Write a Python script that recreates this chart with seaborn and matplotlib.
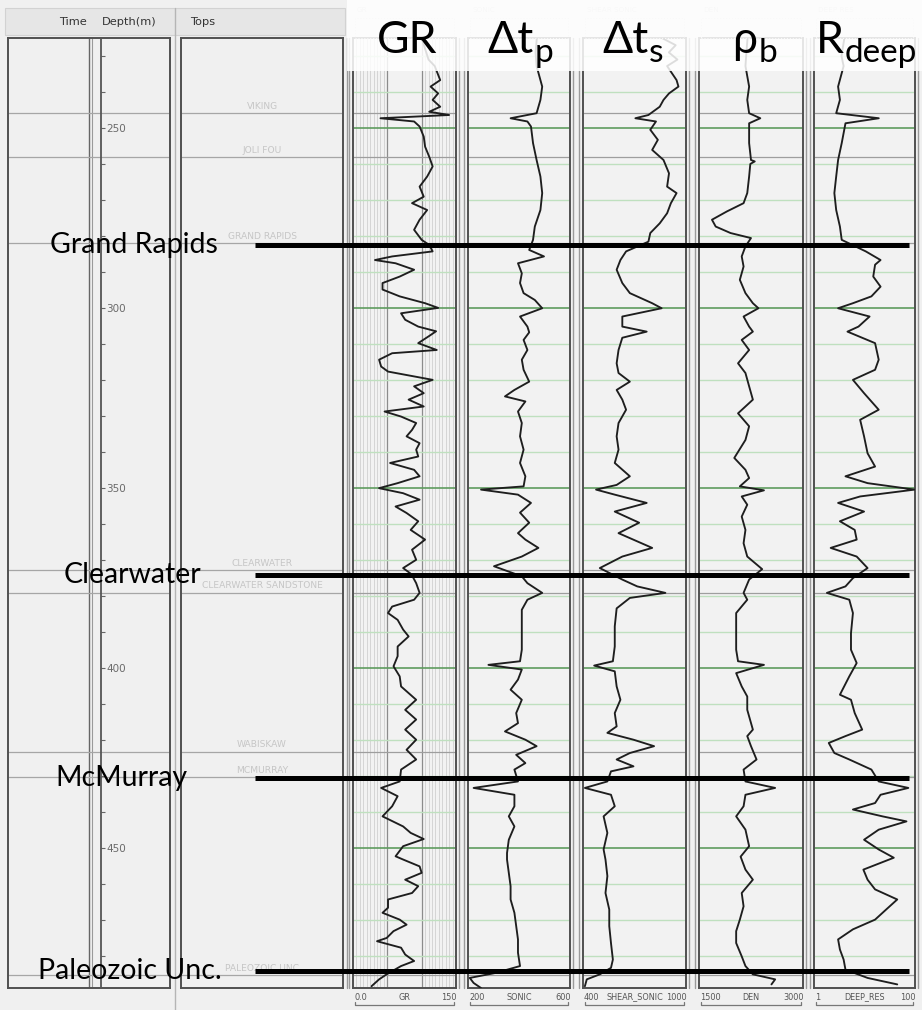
import numpy as np
import pandas as pd
import matplotlib
matplotlib.use("Agg")
import matplotlib.pyplot as plt
import seaborn as sns
from matplotlib.patches import Rectangle
from matplotlib.lines import Line2D
from matplotlib.ticker import MultipleLocator, FixedLocator, NullLocator

# ---------------- data ----------------
depth_top, depth_bottom = 225, 489

top_names = ["VIKING", "JOLI FOU", "GRAND RAPIDS", "CLEARWATER", "CLEARWATER SANDSTONE",
             "WABISKAW", "MCMURRAY", "PALEOZOIC UNC"]
top_depths = [245.8, 258.1, 282.0, 372.8, 379.1, 423.3, 430.5, 485.3]

horizon_names = ["Grand Rapids", "Clearwater", "McMurray", "Paleozoic Unc."]
horizon_depths = [282.5, 374.2, 430.6, 484.4]

gr_depth = [225, 228, 231, 232.8, 236.7, 238.5, 240.4, 242.2, 244.1, 245.5, 246.4, 247.3, 248.2, 249.6,
            252.4, 255.2, 258.0, 260.7, 263.5, 266.3, 269.1, 270.9, 272.8, 275.5, 278.3, 281.1, 282.5,
            284.3, 285.7, 286.7, 287.6, 289.4, 291.3, 293.1, 294.9, 296.8, 298.7, 300.0, 301.5, 303.3,
            305.2, 306.5, 307.8, 309.8, 311.7, 312.6, 314.4, 316.3, 317.7, 320.0, 321.8, 323.7, 325.5,
            327.4, 328.8, 330.2, 332.0, 333.9, 335.7, 337.6, 339.4, 341.3, 343.1, 345.0, 346.8, 348.7,
            350.1, 351.5, 353.3, 355.2, 357.0, 359.3, 361.7, 364.4, 367.2, 370.0, 372.3, 374.0, 376.5,
            379.2, 381.1, 383.0, 384.8, 386.7, 389.4, 391.3, 394.1, 396.8, 399.6, 402.4, 405.2, 408.9,
            411.7, 414.4, 417.2, 420.0, 422.8, 425.5, 428.3, 431.6, 433.4, 435.7, 438.5, 441.3, 444.1,
            445.9, 447.6, 449.6, 452.4, 453.3, 455.2, 457.0, 458.9, 460.7, 462.6, 464.4, 466.7, 468.1,
            470.0, 471.4, 473.2, 475.1, 476.0, 477.8, 479.7, 481.5, 482.9, 485.2, 486.6, 488.5]
gr_value = [100, 105, 110, 119, 127, 113, 124, 116, 127, 111, 140, 40, 89, 97,
            103, 105, 111, 116, 108, 97, 103, 86, 108, 97, 89, 100, 111,
            116, 57, 32, 62, 89, 68, 43, 43, 68, 105, 124, 70, 76,
            95, 121, 111, 95, 122, 57, 38, 41, 51, 116, 89, 103, 81,
            103, 46, 70, 92, 86, 78, 97, 92, 95, 54, 89, 97, 65,
            38, 73, 97, 62, 78, 95, 84, 105, 86, 92, 73, 85, 92,
            97, 89, 57, 51, 65, 73, 81, 65, 65, 59, 68, 70, 92,
            76, 92, 76, 92, 78, 92, 70, 68, 41, 65, 57, 43, 73,
            84, 103, 73, 62, 73, 97, 100, 76, 95, 86, 51, 51, 43,
            68, 78, 59, 49, 35, 70, 76, 89, 70, 49, 38, 27]

sonic_depth = [225, 229, 232.8, 238.5, 242.2, 245.9, 247.3, 248.2, 249.6, 254.2, 258.9, 263.5, 268.1,
               272.8, 277.4, 281.1, 283.9, 285.7, 287.6, 290.4, 293.1, 295.9, 297.8, 300.1, 302.4,
               305.2, 306.8, 308.9, 311.7, 314.4, 317.2, 320.5, 322.8, 324.6, 326.0, 328.8, 332.0,
               335.7, 339.4, 343.1, 346.8, 349.6, 350.5, 351.9, 354.2, 356.9, 359.7, 362.6, 364.4,
               366.7, 369.1, 371.8, 374.6, 376.5, 379.2, 381.1, 383.9, 386.7, 390.4, 395.0, 398.2,
               399.2, 400.5, 403.3, 406.1, 408.9, 412.6, 415.4, 417.7, 420.0, 421.8, 424.2, 426.5,
               428.3, 431.6, 433.4, 435.3, 438.5, 441.3, 444.1, 447.8, 451.5, 453.3, 457.0, 460.7,
               464.4, 468.1, 471.8, 475.5, 479.2, 482.9, 484.8, 486.2, 487.6, 489.0]
sonic_value = [470, 465, 469, 491, 484, 469, 367, 433, 447, 455, 469, 484, 491,
               484, 462, 455, 440, 498, 396, 411, 404, 418, 462, 491, 404,
               433, 440, 418, 433, 411, 418, 440, 382, 345, 425, 396, 411,
               404, 418, 404, 425, 418, 251, 396, 447, 404, 440, 396, 425,
               476, 411, 302, 411, 433, 491, 433, 411, 411, 411, 411, 404,
               280, 411, 396, 367, 411, 389, 396, 345, 425, 469, 389, 425,
               382, 396, 222, 382, 382, 360, 382, 360, 353, 353, 360, 367,
               367, 382, 389, 396, 396, 404, 309, 207, 222, 251]

shear_depth = [225, 227, 229, 231, 232.8, 236.7, 238.5, 240.4, 242.2, 244.1, 246.4, 247.3, 248.2,
               250.5, 253.3, 256.1, 258.9, 262.6, 266.3, 268.1, 270.9, 273.7, 276.5, 279.2, 281.6,
               284.3, 286.7, 289.4, 293.1, 295.9, 298.7, 300.1, 302.4, 305.2, 306.6, 308.3, 311.7,
               315.4, 318.1, 320.5, 322.8, 325.5, 328.3, 332.0, 335.7, 339.4, 343.1, 346.8, 349.2,
               350.5, 351.9, 354.2, 356.6, 359.7, 362.6, 366.7, 369.1, 372.3, 375.5, 377.4, 379.2,
               380.6, 383.5, 388.5, 394.1, 398.2, 399.4, 401.0, 405.2, 408.9, 412.6, 416.3, 418.1,
               420.0, 421.8, 423.7, 425.5, 427.4, 428.8, 431.6, 433.4, 435.3, 438.5, 441.3, 445.9,
               450.5, 453.3, 457.9, 462.6, 467.2, 471.8, 476.5, 481.1, 483.4, 485.2, 486.6, 488.5]
shear_value = [860, 940, 900, 950, 890, 945, 956, 901, 869, 847, 781, 705, 825,
               792, 836, 803, 869, 901, 890, 945, 912, 890, 847, 792, 781,
               651, 618, 596, 629, 673, 803, 858, 629, 629, 771, 629, 607,
               596, 607, 673, 596, 629, 651, 607, 596, 607, 585, 673, 596,
               476, 585, 771, 585, 727, 607, 803, 629, 498, 629, 716, 880,
               673, 596, 585, 585, 574, 465, 585, 596, 618, 585, 596, 542,
               694, 814, 673, 596, 694, 563, 542, 411, 563, 585, 520, 542,
               520, 531, 542, 531, 553, 553, 563, 574, 563, 498, 422, 411]

den_depth = [225, 230, 232.8, 238.5, 242.2, 245.9, 247.3, 248.7, 254.2, 258.9, 259.3, 260.0, 263.5,
             268.1, 270.9, 273.2, 275.5, 277.4, 279.2, 280.6, 282.9, 285.7, 288.5, 292.2, 295.9,
             298.7, 300.1, 302.4, 305.2, 306.6, 308.9, 311.7, 315.4, 318.1, 321.8, 325.5, 329.3,
             332.9, 336.7, 341.7, 345.0, 347.3, 349.6, 350.7, 352.4, 354.7, 358.0, 361.7, 365.4,
             369.1, 372.6, 375.5, 379.2, 381.1, 384.8, 390.4, 395.0, 398.2, 399.2, 401.5, 405.2,
             408.0, 411.7, 417.2, 419.0, 421.8, 425.5, 428.3, 431.6, 433.4, 435.3, 438.5, 441.3,
             445.0, 449.6, 452.5, 456.1, 458.9, 462.6, 466.3, 470.0, 473.2, 476.5, 480.2, 482.9,
             485.2, 486.6, 488.0]
den_value = [2200, 2180, 2170, 2223, 2196, 2223, 2384, 2223, 2223, 2250, 2304, 2240, 2223,
             2196, 2143, 1902, 1687, 1741, 1955, 2250, 2170, 2116, 2143, 2089, 2170,
             2277, 2357, 2143, 2223, 2277, 2116, 2223, 2063, 2170, 2223, 2277, 2063,
             2223, 2170, 2009, 2170, 2223, 2089, 2437, 2116, 2196, 2116, 2170, 2143,
             2196, 2411, 2223, 2143, 2196, 2036, 2036, 2036, 2063, 2437, 2036, 2116,
             2196, 2196, 2277, 2196, 2250, 2330, 2143, 2170, 2598, 2170, 2143, 2036,
             2170, 2223, 2100, 2170, 2277, 2116, 2143, 2089, 2036, 2036, 2116, 2170,
             2277, 2598, 2545]

res_depth = [225, 230, 232.8, 238.5, 242.2, 245.9, 247.3, 248.7, 254.2, 258.9, 263.5, 268.1, 272.8,
             277.4, 281.1, 284.3, 286.7, 288.0, 291.3, 294.1, 296.8, 298.7, 300.1, 302.4, 305.2,
             306.6, 309.8, 314.4, 317.2, 320.0, 323.7, 328.3, 331.1, 335.7, 340.4, 344.1, 346.8,
             348.7, 350.5, 352.4, 354.2, 356.6, 359.3, 361.7, 364.4, 366.7, 369.1, 372.3, 375.1,
             377.4, 379.2, 381.1, 384.8, 390.4, 395.0, 398.7, 402.4, 407.5, 408.9, 412.6, 417.2,
             419.0, 420.9, 423.7, 425.5, 428.3, 431.6, 433.4, 435.3, 437.6, 439.4, 441.3, 442.7,
             445.0, 447.8, 450.5, 452.8, 456.1, 458.9, 461.6, 464.4, 467.2, 470.0, 472.7, 475.5,
             478.3, 481.1, 483.9, 486.2, 488.0]
res_value = [4.0, 3.5, 3.86, 3.0, 3.26, 2.75, 19.2, 4.2, 3.54, 3.0, 2.75, 2.53, 2.75,
             3.26, 3.54, 10.6, 20.8, 16.2, 14.9, 20.8, 13.7, 5.9, 3.0, 12.6, 7.6,
             4.6, 16.2, 19.1, 16.2, 5.9, 9.8, 19.1, 8.2, 9.8, 11.5, 16.2, 4.2,
             11.5, 98, 8.2, 3.0, 9.8, 3.26, 6.4, 7.0, 2.14, 7.0, 11.5, 5.9,
             4.2, 1.8, 5.0, 5.9, 5.4, 5.4, 7.0, 5.0, 3.26, 5.4, 6.4, 9.0,
             4.2, 1.96, 2.53, 5.0, 13.7, 19.1, 73.8, 20.8, 16.2, 5.9, 22.7, 67.8,
             19.1, 9.8, 19.1, 38, 9.5, 11.5, 16.2, 44.5, 26.8, 16.2, 5.9, 3.0,
             3.26, 3.86, 4.2, 11.5, 44.5]

track_names = ["GR", "SONIC", "SHEAR_SONIC", "DEN", "DEEP_RES"]
track_header = ["GR", "SONIC", "SHEAR SONIC", "DEN", "DEEP RES"]
scale_left = ["0.0", "200", "400", "1500", "1"]
scale_right = ["150", "600", "1000", "3000", "100"]
scale_min = [0, 200, 400, 1500, 1]
scale_max = [150, 600, 1000, 3000, 100]
big_main = ["GR", "Δt", "Δt", "ρ", "R"]
big_sub = ["", "p", "s", "b", "deep"]

curves = [(gr_depth, gr_value), (sonic_depth, sonic_value), (shear_depth, shear_value),
          (den_depth, den_value), (res_depth, res_value)]

# ---------------- layout / style ----------------
W, H, DPI = 922, 1010, 100
TRACK_Y0, TRACK_Y1 = 38, 988
log_x = [(353, 456), (468, 570), (583, 686), (699, 803), (814, 915)]
big_left = [377, 487, 602, 732, 816]
horizon_text_x = [50, 64, 55, 38]
ANN_FONT = ["Lato", "Noto Sans", "DejaVu Sans"]
BG = "#f0f0f0"
EDGE = "#505050"

sns.set_theme(style="white")
plt.rcParams["font.family"] = ["DejaVu Sans"]

fig = plt.figure(figsize=(W / DPI, H / DPI), dpi=DPI, facecolor=BG)


def px_axes(x0, y0, x1, y1, **kw):
    return fig.add_axes([x0 / W, 1 - y1 / H, (x1 - x0) / W, (y1 - y0) / H], **kw)


def fig_line(xs, ys, **kw):
    fig.add_artist(Line2D([x / W for x in xs], [1 - y / H for y in ys], transform=fig.transFigure, **kw))


def style_box(ax):
    ax.set_facecolor(BG)
    for sp in ax.spines.values():
        sp.set_color(EDGE)
        sp.set_linewidth(1.4)
    ax.tick_params(which="both", left=False, bottom=False, right=False, top=False,
                   labelleft=False, labelbottom=False)
    ax.set_ylim(depth_bottom, depth_top)


# header band for depth / tops tracks
fig.add_artist(Rectangle((5 / W, 1 - 35 / H), 340 / W, 27 / H, transform=fig.transFigure,
                         facecolor="#e6e6e6", edgecolor="#d2d2d2", lw=0.8))
fig_line([175, 175], [8, 1010], color="#b5b5b5", lw=1.0)
fig.text(87 / W, 1 - 22 / H, "Time", ha="right", va="center", fontsize=8.2, color="#333333")
fig.text(102 / W, 1 - 22 / H, "Depth(m)", ha="left", va="center", fontsize=8.2, color="#333333")
fig.text(190 / W, 1 - 22 / H, "Tops", ha="left", va="center", fontsize=8.2, color="#333333")

# depth track
ax_d = px_axes(8, TRACK_Y0, 170, TRACK_Y1)
style_box(ax_d)
ax_d.set_xlim(8, 170)
ax_d.axvline(88.5, color="#666666", lw=1.0)
ax_d.axvline(91.5, color="#9a9a9a", lw=0.8)
for d in top_depths:
    ax_d.axhline(d, color="#a6a6a6", lw=0.9)

ax_s = px_axes(8, TRACK_Y0, 101, TRACK_Y1)
ax_s.patch.set_alpha(0)
for k, sp in ax_s.spines.items():
    sp.set_visible(k == "right")
ax_s.spines["right"].set_color("#555555")
ax_s.spines["right"].set_linewidth(1.3)
ax_s.set_ylim(depth_bottom, depth_top)
ax_s.set_xticks([])
ax_s.yaxis.tick_right()
ax_s.yaxis.set_major_locator(MultipleLocator(50))
ax_s.yaxis.set_minor_locator(MultipleLocator(10))
ax_s.tick_params(axis="y", which="both", direction="out", length=3, width=0.8, color="#666666",
                 labelsize=7.5, labelcolor="#6a6a6a", pad=1)

# tops track
ax_t = px_axes(181, TRACK_Y0, 343, TRACK_Y1)
style_box(ax_t)
ax_t.set_xlim(0, 1)
for name, d in zip(top_names, top_depths):
    ax_t.axhline(d, color="#a6a6a6", lw=0.9)
    ax_t.annotate(name, xy=(0.5, d), xycoords=("axes fraction", "data"), xytext=(0, 1.5),
                  textcoords="offset points", ha="center", va="bottom", fontsize=6.6, color="#c6c6c6")
fig_line([347, 347], [TRACK_Y0, TRACK_Y1], color="#9a9a9a", lw=1.0)

# log tracks
for i, ((x0, x1), (dep, val)) in enumerate(zip(log_x, curves)):
    ax = px_axes(x0, TRACK_Y0, x1, TRACK_Y1)
    style_box(ax)
    ax.set_facecolor("#f2f2f2")
    if track_names[i] == "DEEP_RES":
        ax.set_xscale("log")
    ax.set_xlim(scale_min[i], scale_max[i])
    ax.yaxis.set_major_locator(MultipleLocator(50))
    ax.yaxis.set_minor_locator(MultipleLocator(10))
    ax.grid(which="minor", axis="y", color="#bfe0bf", lw=1.0, zorder=0)
    ax.grid(which="major", axis="y", color="#5f9c5f", lw=1.2, zorder=0)
    if track_names[i] == "GR":
        ax.xaxis.set_major_locator(FixedLocator([50, 100]))
        ax.xaxis.set_minor_locator(FixedLocator(list(range(5, 50, 5)) + list(range(105, 150, 5))))
        ax.grid(which="major", axis="x", color="#8c8c8c", lw=0.9, zorder=0)
        ax.grid(which="minor", axis="x", color="#d0d0d0", lw=0.6, zorder=0)
    else:
        ax.xaxis.set_major_locator(NullLocator())
        ax.xaxis.set_minor_locator(NullLocator())
    ax.tick_params(which="both", left=False, bottom=False, labelleft=False, labelbottom=False)
    for d in top_depths:
        ax.axhline(d, color="#9e9e9e", lw=0.9, zorder=1)
    df = pd.DataFrame({"depth": dep, "value": val})
    sns.lineplot(data=df, x="value", y="depth", ax=ax, sort=False, estimator=None, orient="y",
                 color="#1e1e1e", lw=1.35, zorder=3)
    ax.set_xlabel("")
    ax.set_ylabel("")
    ax.set_ylim(depth_bottom, depth_top)
    ax.set_xlim(scale_min[i], scale_max[i])
    fig_line([x0 - 4, x0 - 4], [TRACK_Y0, TRACK_Y1], color="#9a9a9a", lw=1.0)
    fig_line([x1 + 3, x1 + 3], [TRACK_Y0, TRACK_Y1], color="#9a9a9a", lw=1.0)
    fig.text((x0 + 1) / W, 1 - 997 / H, scale_left[i], ha="left", va="center", fontsize=5.9, color="#555555")
    fig.text((x0 + x1) / 2 / W, 1 - 997 / H, track_names[i], ha="center", va="center", fontsize=5.9, color="#555555")
    fig.text((x1 + 1) / W, 1 - 997 / H, scale_right[i], ha="right", va="center", fontsize=5.9, color="#555555")
    fig_line([x0 + 2, x0 + 2, x1 - 2, x1 - 2], [1002, 1005, 1005, 1002], color="#777777", lw=0.9)
    fig.text((x0 + 4) / W, 1 - 10 / H, track_header[i], ha="left", va="center", fontsize=5.2, color="#cfcfcf")
    fig.add_artist(Rectangle(((x0 + 2) / W, 1 - TRACK_Y0 / H), (x1 - x0 - 4) / W, 20 / H,
                             transform=fig.transFigure, fill=False, edgecolor="#d8d8d8", lw=0.8, ls=":"))

# semi-transparent white label box
fig.add_artist(Rectangle((347 / W, 1 - 71 / H), (W - 347) / W, 71 / H, transform=fig.transFigure,
                         facecolor="white", edgecolor="none", alpha=0.85, zorder=50))

# overlay for horizon annotations
ax_o = px_axes(0, TRACK_Y0, W, TRACK_Y1)
ax_o.patch.set_alpha(0)
ax_o.set_axis_off()
ax_o.set_zorder(40)
ax_o.set_xlim(0, W)
ax_o.set_ylim(depth_bottom, depth_top)
ax_o.hlines(horizon_depths, 255, 909, color="black", lw=3.6)
for name, d, xl in zip(horizon_names, horizon_depths, horizon_text_x):
    ax_o.text(xl, d, name, ha="left", va="center", fontsize=20.5, family=ANN_FONT, color="black")

# big curve labels
renderer = fig.canvas.get_renderer()
for m, s, xl in zip(big_main, big_sub, big_left):
    t = fig.text(xl / W, 1 - 53 / H, m, fontsize=32, family=ANN_FONT, ha="left", va="baseline",
                 color="black", zorder=60)
    if s:
        bb = t.get_window_extent(renderer)
        fig.text((bb.x1 + 1) / W, 1 - 62 / H, s, fontsize=24, family=ANN_FONT, ha="left",
                 va="baseline", color="black", zorder=60)

fig.savefig("out.png", dpi=DPI, facecolor=BG)
